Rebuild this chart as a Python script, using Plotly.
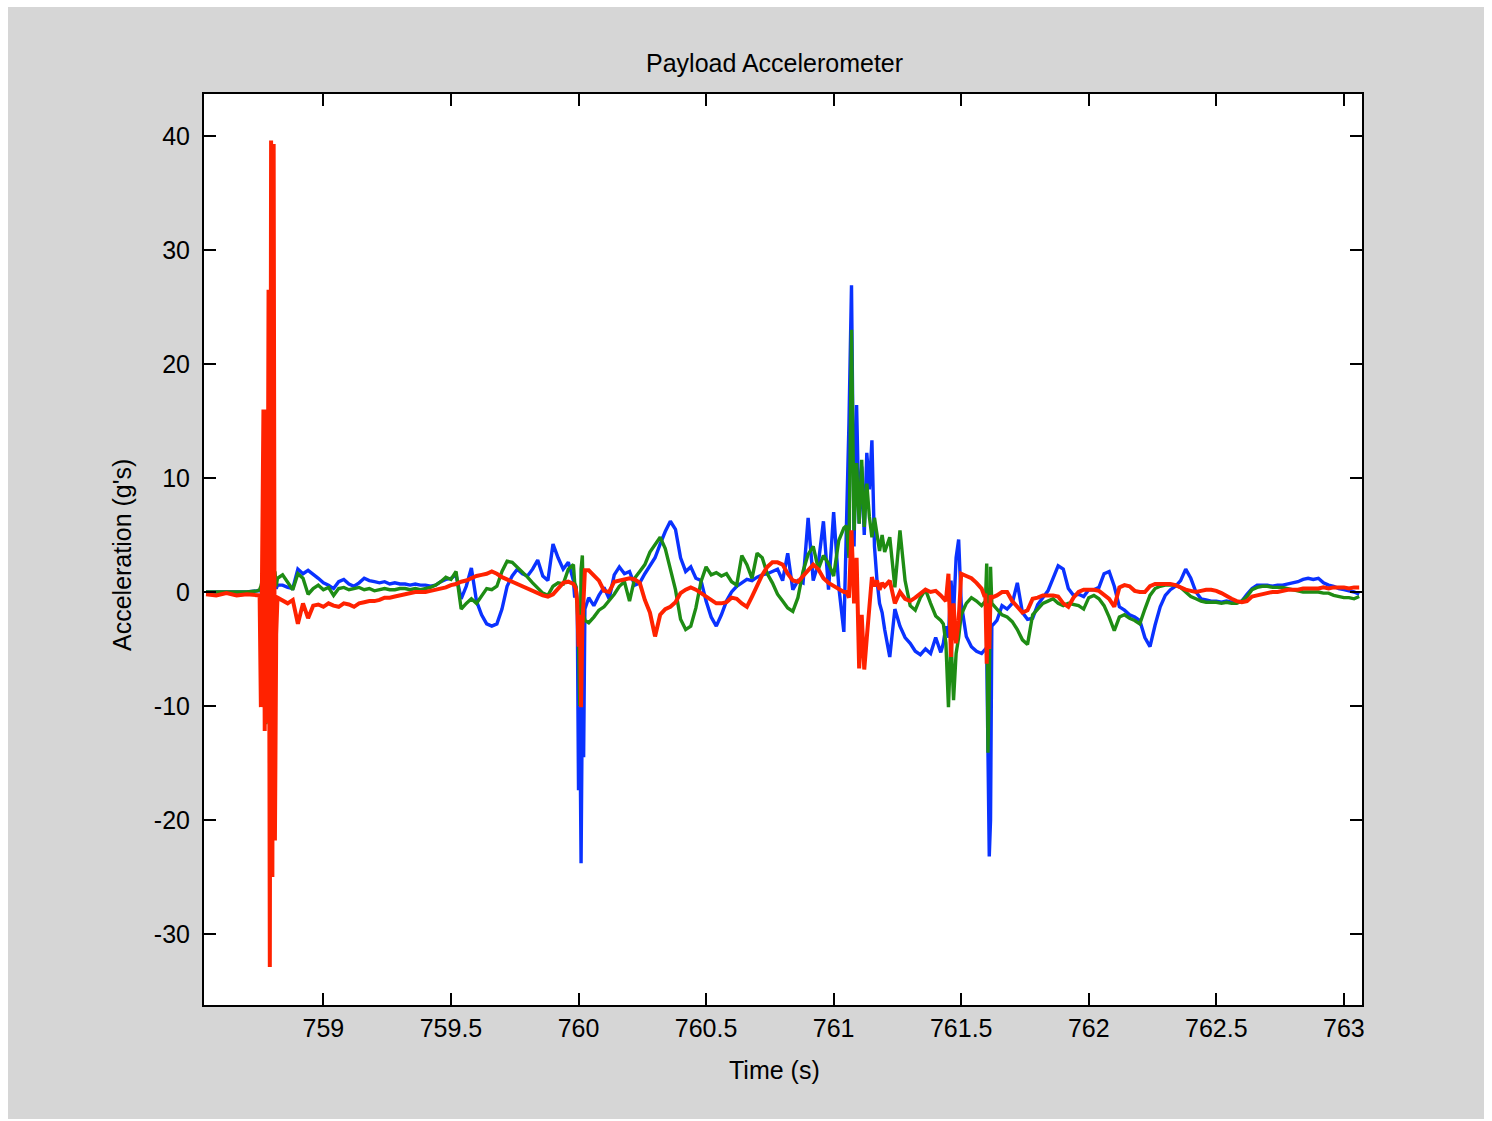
import plotly.graph_objects as go

# Sample times (s)
t = [
    758.54, 758.58, 758.62, 758.66, 758.70, 758.74,
    758.750, 758.755, 758.760, 758.765, 758.770, 758.775, 758.780, 758.785,
    758.790, 758.795, 758.800, 758.805, 758.810, 758.815, 758.820,
    758.84, 758.86, 758.88, 758.90, 758.92, 758.94, 758.96, 758.98, 759.00, 759.02,
    759.04, 759.06, 759.08, 759.10, 759.12, 759.14, 759.16, 759.18, 759.20, 759.22,
    759.24, 759.26, 759.28, 759.30, 759.32, 759.34, 759.36, 759.38, 759.40, 759.42,
    759.44, 759.46, 759.48, 759.50, 759.52, 759.54, 759.56, 759.58, 759.60, 759.62,
    759.64, 759.66, 759.68, 759.70, 759.72, 759.74, 759.76, 759.78, 759.80, 759.82,
    759.84, 759.86, 759.88, 759.90, 759.92, 759.94, 759.96, 759.98,
    759.985, 759.990, 759.995, 760.000, 760.005, 760.010, 760.015, 760.020, 760.025,
    760.04, 760.06, 760.08, 760.10, 760.12, 760.14, 760.16, 760.18, 760.20, 760.22,
    760.24, 760.26, 760.28, 760.30, 760.32, 760.34, 760.36, 760.38, 760.40, 760.42,
    760.44, 760.46, 760.48, 760.50, 760.52, 760.54, 760.56, 760.58, 760.60, 760.62,
    760.64, 760.66, 760.68, 760.70, 760.72, 760.74, 760.76, 760.78, 760.80, 760.82,
    760.84, 760.86, 760.88, 760.90, 760.92, 760.94, 760.96, 760.98, 761.00, 761.02,
    761.04,
    761.05, 761.06, 761.07, 761.08, 761.09, 761.10, 761.11, 761.12, 761.13, 761.14,
    761.15, 761.16, 761.17, 761.18, 761.19, 761.20,
    761.22, 761.24, 761.26, 761.28, 761.30, 761.32, 761.34, 761.36, 761.38, 761.40, 761.42,
    761.43, 761.44, 761.45, 761.46, 761.47, 761.48, 761.49, 761.50,
    761.52, 761.54, 761.56, 761.58,
    761.590, 761.595, 761.600, 761.605, 761.610, 761.615, 761.620,
    761.64, 761.66, 761.68, 761.70, 761.72, 761.74, 761.76, 761.78, 761.80, 761.82,
    761.84, 761.86, 761.88, 761.90, 761.92, 761.94, 761.96, 761.98, 762.00, 762.02,
    762.04, 762.06, 762.08, 762.10, 762.12, 762.14, 762.16, 762.18, 762.20, 762.22,
    762.24, 762.26, 762.28, 762.30, 762.32, 762.34, 762.36, 762.38, 762.40, 762.42,
    762.44, 762.46, 762.48, 762.50, 762.52, 762.54, 762.56, 762.58, 762.60, 762.62,
    762.64, 762.66, 762.68, 762.70, 762.72, 762.74, 762.76, 762.78, 762.80, 762.82,
    762.84, 762.86, 762.88, 762.90, 762.92, 762.94, 762.96, 762.98, 763.00, 763.02,
    763.04, 763.06,
]

# Acceleration, axis 1 (g's)
accel_x = [
    0.0, 0.0, 0.0, 0.0, 0.0, 0.1,
    0.1, 0.3, 0.2, 0.5, -0.5, 0.8, 0.3, 1.0, -1.0, 0.5, 0.2, 0.8, 0.5, 0.3, 0.6,
    0.6, 0.4, 0.3, 2.0, 1.6, 1.9, 1.5, 1.2, 0.8, 0.6,
    0.3, 0.9, 1.1, 0.7, 0.5, 0.8, 1.2, 1.0, 0.9, 0.8,
    0.9, 0.7, 0.8, 0.7, 0.7, 0.6, 0.7, 0.6, 0.6, 0.5,
    0.6, 0.9, 1.1, 1.2, 1.5, -0.6, 0.5, 2.1, -0.8, -2.0,
    -2.8, -3.0, -2.8, -1.5, 0.5, 1.4, 2.0, 1.6, 1.4, 2.0,
    2.8, 1.4, 1.0, 4.2, 3.0, 2.0, 2.6, 1.0,
    -0.5, 0.5, -1.0, -17.4, -10.0, -23.8, -9.0, -14.5, -1.5,
    -0.5, -1.2, -0.3, 0.4, -0.6, 1.5, 2.2, 1.6, 1.8, 0.6,
    0.8, 1.6, 2.3, 3.0, 4.2, 5.3, 6.2, 5.5, 3.0, 1.8,
    2.2, 1.2, 1.0, -0.8, -2.2, -3.0, -2.0, -0.8, 0.0, 0.5,
    0.8, 1.1, 1.0, 1.3, 1.5, 1.6, 1.8, 2.0, 1.0, 3.4,
    0.2, 1.0, 0.8, 6.5, 1.0, 2.5, 6.2, 0.2, 7.0, 0.5,
    -3.5,
    5.4, 14.8, 26.9, 4.0, 16.4, 6.0, 11.0, 5.0, 12.2, 9.0, 13.3, 4.0, 1.0, -1.0, -1.8, -3.3,
    -5.7, -1.5, -3.0, -4.0, -4.5, -5.2, -5.5, -5.0, -5.4, -4.0, -5.3,
    -4.5, -3.0, -4.0, 1.0, -2.0, 3.0, 4.6, -1.0,
    -3.9, -4.8, -5.2, -5.4,
    -5.2, -5.0, -5.3, -14.0, -23.2, -20.0, -3.0,
    -2.5, -1.2, -1.5, -1.0, 0.8, -1.8, -2.4, -2.3, -1.1, -0.5,
    0.1, 1.2, 2.3, 2.0, 0.3, -0.3, -0.2, -0.4, 0.2, 0.2,
    0.4, 1.6, 1.8, 0.5, -1.3, -1.6, -2.0, -2.2, -2.5, -4.0,
    -4.8, -2.9, -1.3, -0.3, 0.2, 0.5, 1.0, 2.0, 1.2, 0.0,
    -0.6, -0.7, -0.8, -0.8, -0.9, -0.8, -0.9, -0.9, -0.8, -0.2,
    0.3, 0.6, 0.6, 0.6, 0.5, 0.6, 0.6, 0.7, 0.8, 0.9,
    1.1, 1.2, 1.1, 1.2, 0.8, 0.6, 0.5, 0.3, 0.2, 0.1,
    0.0, -0.2,
]

# Acceleration, axis 2 (g's)
accel_y = [
    0.0, 0.0, 0.0, 0.0, 0.0, 0.1,
    0.2, 0.5, 1.0, -4.0, 1.4, -11.6, 1.4, -11.0, 1.0, -3.0, 1.6, 0.5, 1.8, 0.5, 1.2,
    1.5, 0.8, 0.2, 1.6, 1.2, -0.2, 0.3, 0.6, 0.2, 0.4,
    -0.3, 0.3, 0.4, 0.2, 0.3, 0.4, 0.2, 0.3, 0.1, 0.2,
    0.3, 0.2, 0.2, 0.3, 0.3, 0.2, 0.3, 0.2, 0.3, 0.4,
    0.6, 0.9, 1.3, 1.1, 1.8, -1.5, -1.0, -0.6, -1.0, -0.3,
    0.3, 0.2, 0.5, 1.8, 2.7, 2.6, 2.2, 1.8, 1.3, 0.8,
    0.3, -0.1, -0.3, 0.5, 0.8, 0.7, 2.0, 2.4,
    0.8, 0.5, -1.0, -4.0, -10.0, 2.0, 3.2, -2.0, -2.5,
    -2.7, -2.2, -1.6, -1.3, -0.8, -0.2, 0.5, 0.9, -0.8, 1.2,
    1.8, 2.4, 3.5, 4.2, 4.8, 3.8, 2.0, 0.2, -2.4, -3.3,
    -3.0, -1.4, 0.9, 2.2, 1.5, 1.7, 1.4, 1.6, 0.9, 0.6,
    3.2, 2.4, 1.2, 3.4, 3.0, 1.6, 0.8, -0.2, -0.8, -1.4,
    -1.7, -0.5, 1.8, 3.3, 4.0, 2.0, 3.2, 2.5, 1.4, 4.5,
    5.6,
    5.8, 3.0, 23.0, 5.4, 11.3, 6.0, 11.6, 5.7, 9.5, 6.6, 4.8, 6.5, 5.0, 3.6, 5.0, 3.5,
    4.8, 0.4, 5.4, 1.0, -1.2, -1.6, -0.5, 0.2, -1.0, -2.1, -2.5,
    -2.8, -4.5, -10.1, -4.0, -9.5, -5.4, -4.0, -2.0,
    -1.0, -0.5, -0.8, -1.2,
    -1.0, -0.8, 2.5, -14.1, -8.0, 2.2, -1.0,
    -1.5, -2.0, -2.2, -2.6, -3.3, -4.2, -4.6, -2.0, -1.5, -1.0,
    -0.8, -0.6, -1.0, -1.2, -1.0, -1.1, -1.2, -1.5, -0.5, -0.3,
    -0.6, -1.2, -2.2, -3.4, -2.2, -2.0, -2.3, -2.5, -2.8, -1.5,
    -0.3, 0.3, 0.5, 0.6, 0.6, 0.6, 0.4, 0.0, -0.4, -0.6,
    -0.8, -0.9, -0.9, -0.9, -1.0, -0.9, -1.0, -1.0, -0.8, -0.4,
    0.2, 0.4, 0.5, 0.5, 0.4, 0.4, 0.4, 0.3, 0.2, 0.1,
    0.0, 0.0, 0.0, 0.0, -0.1, -0.1, -0.3, -0.4, -0.5, -0.5,
    -0.6, -0.4,
]

# Acceleration, axis 3 (g's)
accel_z = [
    -0.2, -0.3, -0.1, -0.3, -0.2, -0.3,
    -0.3, -10.1, -0.5, 16.0, -12.2, 16.0, -11.5, 26.5, -32.9, 39.6, -25.0, 39.3, -21.8, -3.7, -0.5,
    -0.8, -1.0, -0.7, -2.8, -1.0, -2.3, -1.2, -1.1, -1.3, -1.0,
    -1.2, -1.3, -1.0, -1.1, -1.3, -1.0, -0.9, -0.8, -0.8, -0.7,
    -0.5, -0.5, -0.4, -0.3, -0.2, -0.1, 0.0, 0.0, 0.0, 0.1,
    0.2, 0.3, 0.4, 0.6, 0.7, 0.9, 1.0, 1.2, 1.4, 1.5,
    1.6, 1.8, 1.6, 1.3, 1.1, 0.9, 0.7, 0.5, 0.3, 0.1,
    -0.1, -0.3, -0.4, -0.2, 0.3, 0.8, 0.9, 0.7,
    0.5, 0.2, -1.0, -4.8, -2.0, -10.1, -3.0, 1.0, 1.9,
    1.9, 1.5, 1.0, 0.1, 0.0, 0.9, 1.0, 1.1, 1.2, 1.1,
    0.8, -0.7, -1.8, -3.9, -2.0, -1.5, -1.3, -0.9, -0.1, 0.2,
    0.4, 0.2, -0.1, -0.4, -0.7, -1.0, -1.0, -0.9, -0.5, -0.6,
    -1.0, -1.3, -0.4, 0.5, 1.5, 2.2, 2.6, 2.6, 2.4, 1.6,
    1.0, 0.9, 1.4, 2.0, 2.4, 2.0, 1.2, 0.8, 0.5, 0.3,
    0.0,
    0.0, -0.5, 5.4, -1.0, 3.0, -6.7, -2.0, -6.8, -4.0, -1.0, 1.3, 0.5, 1.0, 0.2, 0.8, 0.5,
    1.0, -1.0, 0.0, -0.6, -0.8, -0.5, -0.2, 0.2, 0.0, 0.1, -0.3,
    -0.5, -0.8, 1.6, -5.7, -1.0, -4.5, -2.5, 1.6,
    1.4, 1.2, 0.8, 0.3,
    -0.3, -0.3, -6.3, -1.0, -5.0, -0.3, -0.5,
    -0.3, 0.0, 0.0, -0.8, -1.3, -1.8, -1.6, -0.6, -0.5, -0.3,
    -0.3, -0.3, -0.4, -1.0, -1.3, -0.5, 0.0, 0.2, 0.2, 0.2,
    0.1, -0.2, -0.6, -1.3, 0.4, 0.6, 0.5, 0.1, 0.0, 0.0,
    0.5, 0.7, 0.7, 0.7, 0.7, 0.6, 0.4, 0.2, 0.1, 0.0,
    0.1, 0.2, 0.2, 0.1, -0.1, -0.4, -0.6, -0.8, -0.9, -0.8,
    -0.4, -0.3, -0.2, -0.1, 0.0, 0.0, 0.1, 0.2, 0.2, 0.2,
    0.3, 0.3, 0.3, 0.3, 0.4, 0.3, 0.4, 0.4, 0.4, 0.3,
    0.4, 0.4,
]

x_ticks = [759, 759.5, 760, 760.5, 761, 761.5, 762, 762.5, 763]
x_tick_text = ["759", "759.5", "760", "760.5", "761", "761.5", "762", "762.5", "763"]
y_ticks = [-30, -20, -10, 0, 10, 20, 30, 40]
y_tick_text = ["-30", "-20", "-10", "0", "10", "20", "30", "40"]

assert len(t) == len(accel_x) == len(accel_y) == len(accel_z)

FONT = "Liberation Sans, Arial, sans-serif"

fig = go.Figure()
fig.add_trace(go.Scatter(x=t, y=accel_x, mode="lines",
                         line=dict(color="#0a32ff", width=3.4), hoverinfo="skip"))
fig.add_trace(go.Scatter(x=t, y=accel_y, mode="lines",
                         line=dict(color="#1e8c14", width=3.4), hoverinfo="skip"))
fig.add_trace(go.Scatter(x=t, y=accel_z, mode="lines",
                         line=dict(color="#ff2200", width=4), hoverinfo="skip"))

W, H = 1492, 1121
L, R, T, B = 204, 130, 94, 116
pw, ph = W - L - R, H - T - B


def px(x):
    return (x - L) / pw


def py(y):
    return (H - B - y) / ph


axis_common = dict(
    showgrid=False, zeroline=False, showline=True, linecolor="black", linewidth=2,
    mirror="ticks", ticks="inside", ticklen=12, tickwidth=2, tickcolor="black",
    tickfont=dict(family=FONT, size=25, color="black"),
)

label_font = dict(family=FONT, size=25, color="black")

fig.update_layout(
    width=W, height=H,
    margin=dict(l=L, r=R, t=T, b=B),
    paper_bgcolor="white",
    plot_bgcolor="white",
    showlegend=False,
    xaxis=dict(range=[758.532, 763.071], tickmode="array", tickvals=x_ticks,
               ticktext=x_tick_text, ticklabelstandoff=0, **axis_common),
    yaxis=dict(range=[-36.23, 43.68], tickmode="array", tickvals=y_ticks,
               ticktext=y_tick_text, ticklabelstandoff=7, **axis_common),
    shapes=[
        # grey figure panel with thin white border, and white axes area on top
        dict(type="rect", xref="paper", yref="paper", layer="below",
             x0=px(8), x1=px(1484), y0=py(1119), y1=py(7),
             fillcolor="#d6d6d6", line=dict(width=0)),
        dict(type="rect", xref="paper", yref="paper", layer="below",
             x0=0, x1=1, y0=0, y1=1, fillcolor="white", line=dict(width=0)),
    ],
    annotations=[
        dict(text="Payload Accelerometer", xref="paper", yref="paper",
             x=px(774), y=py(63), xanchor="center", yanchor="middle",
             showarrow=False, font=label_font),
        dict(text="Time (s)", xref="paper", yref="paper",
             x=px(774), y=py(1070), xanchor="center", yanchor="middle",
             showarrow=False, font=label_font),
        dict(text="Acceleration (g's)", xref="paper", yref="paper",
             x=px(122), y=py(555), xanchor="center", yanchor="middle",
             showarrow=False, textangle=-90, font=label_font),
    ],
)

fig.write_html("out.html")
